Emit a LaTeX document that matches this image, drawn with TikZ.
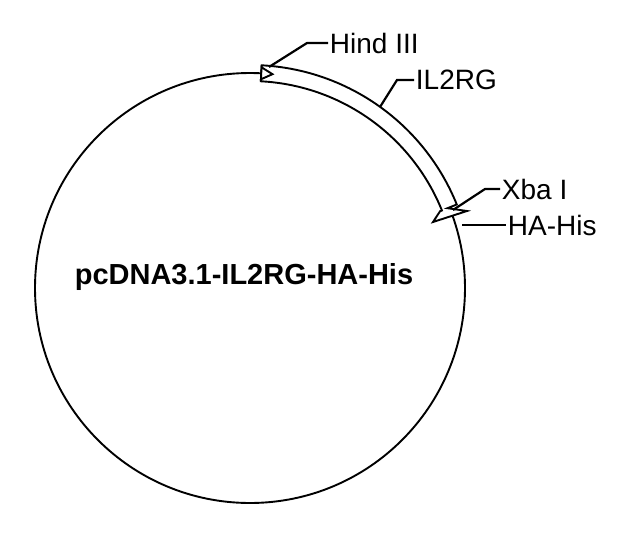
\documentclass[tikz,border=0pt]{standalone}
\usepackage{fontspec}
\setmainfont{Liberation Sans}
\usetikzlibrary{calc}

\tikzset{
  lbl/.style={anchor=west, inner sep=1pt, font=\fontsize{28}{30}\selectfont},
  lead/.style={line width=2.2pt},
}

\begin{document}
\begin{tikzpicture}[x=1pt,y=-1pt,line width=1.9pt]
\useasboundingbox (0,0) rectangle (638,536);

\coordinate (c) at (250,288);
\draw (c) circle (215);

% IL2RG band
\draw[fill=white] ($(c)+(-87:223)$) arc (-87:-22:223) -- ($(c)+(-22:213)$)
  -- (467,211) -- (433,222) -- ($(c)+(-22:205)$) -- ($(c)+(-22:207)$)
  arc (-22:-87:207) -- cycle;
\draw[fill=white] ($(c)+(-87:221)$) -- ($(c)+(-87:209)$) -- ($(c)+(-84:215)$) -- cycle;

\node[lbl] (hind) at (328,43) {Hind III};
\node[lbl] (il2) at (414,80) {IL2RG};
\node[lbl] (xba) at (500,189) {Xba I};
\node[lbl] (ha) at (506,225) {HA-His};
\node[font=\bfseries\fontsize{29}{31}\selectfont] (name) at (244,277) {pcDNA3.1-IL2RG-HA-His};

\draw[lead] (269,67) -- (307,43) -- (hind.west);
\draw[lead] (380,107) -- (397,80) -- (il2.west);
\draw[lead] (453,210) -- (485,189) -- (xba.west);
\draw[lead] (462,225) -- (ha.west);

\end{tikzpicture}
\end{document}
